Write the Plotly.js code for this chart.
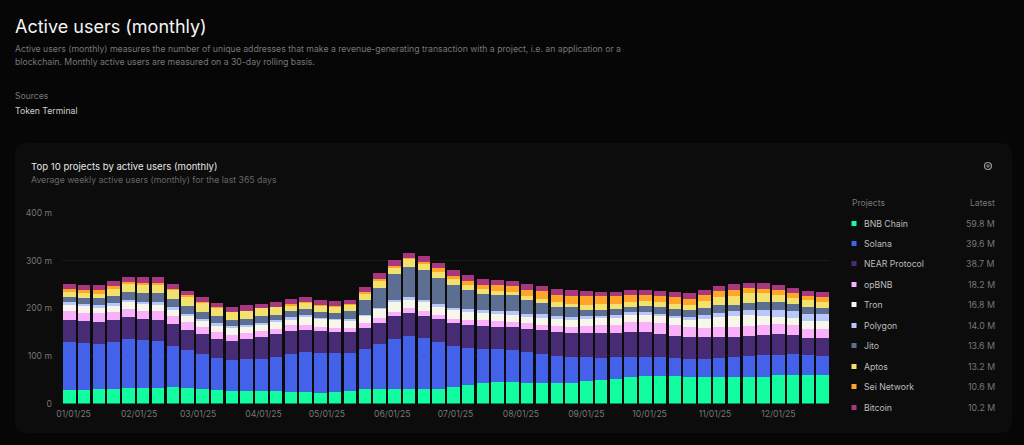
<!DOCTYPE html>
<html><head><meta charset="utf-8">
<script src="https://cdn.plot.ly/plotly-3.0.1.min.js"></script>
<style>html,body{margin:0;padding:0;background:#060606;overflow:hidden}#c{width:1024px;height:445px}</style>
</head><body><div id="c"></div>
<script>
const weeks=['2024-12-30','2025-01-06','2025-01-13','2025-01-20','2025-01-27','2025-02-03','2025-02-10','2025-02-17','2025-02-24','2025-03-03','2025-03-10','2025-03-17','2025-03-24','2025-03-31','2025-04-07','2025-04-14','2025-04-21','2025-04-28','2025-05-05','2025-05-12','2025-05-19','2025-05-26','2025-06-02','2025-06-09','2025-06-16','2025-06-23','2025-06-30','2025-07-07','2025-07-14','2025-07-21','2025-07-28','2025-08-04','2025-08-11','2025-08-18','2025-08-25','2025-09-01','2025-09-08','2025-09-15','2025-09-22','2025-09-29','2025-10-06','2025-10-13','2025-10-20','2025-10-27','2025-11-03','2025-11-10','2025-11-17','2025-11-24','2025-12-01','2025-12-08','2025-12-15','2025-12-22'];
const bnb=[29.4,29.4,31.5,31.5,32.9,32.9,32.9,35,32.9,30.1,29.4,27.3,27.3,27.3,25.9,25.2,23.8,21.7,24.5,25.9,30.1,31.5,31.5,30.1,30.1,31.5,35,39.2,43.4,44.8,45.5,42.7,42.7,43.4,44.1,47.6,49.7,51.1,55.3,58.1,58.1,58.1,56.7,56.7,56.7,55.3,55.3,56.7,59.5,60.9,59.5,59.8];
const solana=[100.1,97.3,93.8,98,102.2,100.1,97.3,85.4,78.4,72.8,66.5,64.4,66.5,66.5,71.4,79.1,84,84,81.9,80.5,84,92.4,104.3,111.3,106.4,96.6,84.7,77,70.7,69.3,67.2,65.1,60.9,56,52.5,49,46.2,45.5,42,39.9,38.5,37.1,37.1,37.1,37.8,42.7,44.1,44.1,42,42.7,42,39.6];
const near=[46.2,45.5,46.2,45.5,46.2,44.8,45.5,46.9,43.4,42,39.9,39.2,41.3,46.2,47.6,47.6,46.9,46.2,44.1,43.4,43.4,44.8,46.9,47.6,47.6,48.3,48.3,49,47.6,46.9,46.9,48.3,51.1,50.4,51.1,50.4,51.8,50.4,52.5,51.1,49.7,46.9,45.5,44.8,45.5,42,41.3,42,44.8,39.9,36.4,38.7];
const opbnb=[18.2,18.2,17.5,16.8,16.1,15.4,17.5,16.8,16.8,15.4,14,13.3,11.9,12.6,11.9,11.9,9.8,9.1,8.4,9.1,10.5,9.8,9.8,10.5,9.8,8.4,9.8,10.5,12.6,12.6,11.2,11.9,10.5,12.6,11.9,16.1,16.8,18.2,21,22.4,22.4,22.4,20.3,19.6,19.6,20.3,22.4,22.4,21,20.3,18.9,18.2];
const tron=[12.6,14,11.9,12.6,15.4,16.1,14,11.2,11.9,12.6,13.3,13.3,12.6,11.2,13.3,11.2,16.1,15.4,15.4,14,14.7,18.9,20.3,17.5,18.9,18.2,18.2,16.8,16.1,14,14,12.6,13.3,14,15.4,14,14,14,14,13.3,14,14,16.1,19.6,21.7,23.8,22.4,18.9,14,14.7,15.4,16.8];
const polygon=[5.6,4.2,5.6,5.6,4.2,3.5,4.9,6.3,4.9,4.2,4.9,4.9,4.9,4.2,4.9,7,4.9,3.5,3.5,4.9,3.5,3.5,3.5,5.6,4.9,5.6,4.2,6.3,6.3,7,8.4,7.7,9.1,7,7,7,5.6,5.6,6.3,7.7,4.9,5.6,4.9,7,8.4,9.8,9.8,12.6,14,14.7,15.4,14];
const jito=[10.5,11.9,14,16.1,17.5,18.9,19.6,17.5,15.4,14.7,14.7,12.6,12.6,16.1,10.5,11.9,12.6,12.6,12.6,15.4,31.5,42,56,64.4,62.3,55.3,48.3,39.2,32.9,32.9,34.3,28,22.4,19.6,19.6,12.6,12.6,14,11.9,11.2,14,13.3,14.7,15.4,16.1,12.6,15.4,16.1,16.8,15.4,14.7,13.6];
const aptos=[11.2,11.2,9.8,14.7,16.8,17.5,17.5,18.2,20.3,18.2,16.8,16.1,16.1,15.4,16.1,10.5,11.9,12.6,12.6,12.6,11.2,14,12.6,15.4,11.9,12.6,11.9,10.5,9.8,9.1,7,9.8,9.8,9.1,7,10.5,11.2,9.8,9.8,11.2,11.2,11.9,11.2,14,18.2,18.9,21,19.6,14.7,13.3,14,13.2];
const sei=[6.3,7,7.7,5.6,3.5,4.2,3.5,3.5,3.5,2.8,2.8,1.4,1.4,1.4,1.4,3.5,3.5,2.1,1.4,2.8,4.2,3.5,3.5,3.5,4.9,7,7,9.1,9.1,11.2,11.2,11.9,15.4,15.4,16.8,18.9,18.2,16.1,14.7,12.6,11.9,13.3,12.6,14,12.6,13.3,11.2,8.4,10.5,9.1,9.1,10.6];
const bitcoin=[11.2,10.5,11.2,10.5,11.2,11.9,12.6,10.5,8.4,9.8,9.1,10.5,11.2,7.7,9.1,11.9,9.8,10.5,11.2,9.1,10.5,12.6,11.9,10.5,11.9,11.2,12.6,11.9,12.6,10.5,11.9,12.6,11.2,12.6,11.9,9.8,8.4,9.8,11.2,11.2,11.2,11.2,11.9,10.5,9.8,11.2,10.5,11.2,10.5,11.2,10.5,10.2];
const projects=['BNB Chain','Solana','NEAR Protocol','opBNB','Tron','Polygon','Jito','Aptos','Sei Network','Bitcoin'];
const latest=['59.8 M','39.6 M','38.7 M','18.2 M','16.8 M','14.0 M','13.6 M','13.2 M','10.6 M','10.2 M'];
const colors=['#12FCA0','#4461EA','#482B75','#FBB0FB','#F8F6E8','#B9C8FA','#5C6E92','#F2E26D','#FFA629','#A8377F'];
const series=[bnb,solana,near,opbnb,tron,polygon,jito,aptos,sei,bitcoin];
const xTickVals=['2025-01-01','2025-02-01','2025-03-01','2025-04-01','2025-05-01','2025-06-01','2025-07-01','2025-08-01','2025-09-01','2025-10-01','2025-11-01','2025-12-01'];
const xTickText=['01/01/25','02/01/25','03/01/25','04/01/25','05/01/25','06/01/25','07/01/25','08/01/25','09/01/25','10/01/25','11/01/25','12/01/25'];
const yTickVals=[0,100,200,300,400];
const yTickText=['0','100 m','200 m','300 m','400 m'];
const rowY=[223.5,243.5,263.5,284.5,304.5,325.5,345.5,366.5,386.5,407.5];

const W=1024,H=445,FONT='Inter, sans-serif';
const px=x=>x/W, py=y=>1-y/H;
const traces=series.map((v,i)=>({type:'bar',x:weeks,y:v,name:projects[i],marker:{color:colors[i],line:{width:0}}}));
const label=(x,y,text,size,color,anchor)=>({xref:'paper',yref:'paper',x:px(x),y:py(y),text,showarrow:false,xanchor:anchor||'left',yanchor:'middle',font:{family:FONT,size,color},borderpad:0,borderwidth:0});
const annotations=[
 label(15,27,'Active users (monthly)',18,'#f4f4f4'),
 label(15,49,'Active users (monthly) measures the number of unique addresses that make a revenue-generating transaction with a project, i.e. an application or a',8.7,'#777'),
 label(15,62,'blockchain. Monthly active users are measured on a 30-day rolling basis.',8.7,'#777'),
 label(15,95.5,'Sources',8.6,'#777'),
 label(15,110.5,'Token Terminal',8.7,'#d0d0d0'),
 label(31,166,'Top 10 projects by active users (monthly)',9.6,'#e6e6e6'),
 label(31,180,'Average weekly active users (monthly) for the last 365 days',8.7,'#666'),
 label(852,203,'Projects',8.6,'#777'),
 label(995,203,'Latest',8.6,'#777','right')
];
const r=12,cx0=15,cx1=1012,cy0=143,cy1=433;
const P=(x,y)=>px(x)+','+py(y);
const shapes=[{type:'path',xref:'paper',yref:'paper',layer:'below',line:{width:0},fillcolor:'#0c0c0c',
 path:`M${P(cx0+r,cy0)} L${P(cx1-r,cy0)} Q${P(cx1,cy0)} ${P(cx1,cy0+r)} L${P(cx1,cy1-r)} Q${P(cx1,cy1)} ${P(cx1-r,cy1)} L${P(cx0+r,cy1)} Q${P(cx0,cy1)} ${P(cx0,cy1-r)} L${P(cx0,cy0+r)} Q${P(cx0,cy0)} ${P(cx0+r,cy0)} Z`},
 {type:'circle',xref:'paper',yref:'paper',x0:px(984.5),x1:px(991.5),y0:py(169.5),y1:py(162.5),line:{color:'#999',width:1.2}},
 {type:'circle',xref:'paper',yref:'paper',x0:px(986.8),x1:px(989.2),y0:py(167.2),y1:py(164.8),line:{color:'#999',width:1}}
];
projects.forEach((p,i)=>{
 annotations.push(label(863.5,rowY[i],p,8.7,'#bdbdbd'));
 annotations.push(label(995,rowY[i],latest[i],8.8,'#777','right'));
 shapes.push({type:'rect',xref:'paper',yref:'paper',x0:px(851.5),x1:px(856.5),y0:py(rowY[i]+2.5),y1:py(rowY[i]-2.5),fillcolor:colors[i],line:{width:0}});
});
Plotly.newPlot('c',traces,{
 width:W,height:H,margin:{l:0,r:0,t:0,b:0,pad:0},
 paper_bgcolor:'#060606',plot_bgcolor:'rgba(0,0,0,0)',barmode:'stack',bargap:0.16,showlegend:false,
 font:{family:FONT},
 xaxis:{type:'date',domain:[px(62),px(830)],range:['2024-12-26 12:00','2025-12-25 12:00'],tickmode:'array',tickvals:xTickVals,ticktext:xTickText,tickfont:{size:8.6,color:'#777',family:FONT},showgrid:false,zeroline:false,showline:false,ticks:'',ticklabelstandoff:4},
 yaxis:{domain:[py(403.5),py(213)],range:[0,400],tickmode:'array',tickvals:yTickVals,ticktext:yTickText,tickfont:{size:8.6,color:'#777',family:FONT},gridcolor:'#181818',gridwidth:1,zeroline:false,showline:false,ticks:'',ticklabelstandoff:9},
 annotations,shapes,hovermode:false
},{displayModeBar:false,staticPlot:true});
</script></body></html>
